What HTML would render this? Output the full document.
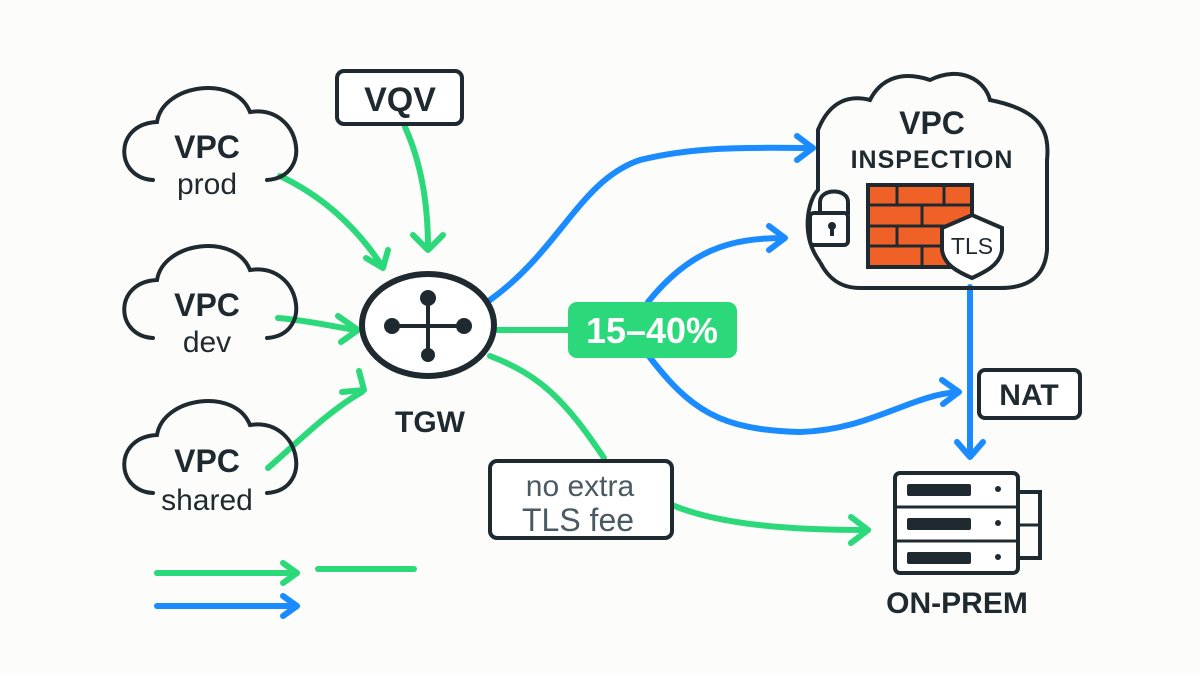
<!DOCTYPE html>
<html><head><style>
html,body{margin:0;padding:0;background:#fcfcfa;}
svg{display:block}
text{font-family:"Liberation Sans","DejaVu Sans",sans-serif;}
</style></head><body>
<svg width="1200" height="675" viewBox="0 0 1200 675" xmlns="http://www.w3.org/2000/svg">
<rect width="1200" height="675" fill="#fcfcfa"/>
<defs>
<g id="cloud"><path d="M-52,28 C-90,26 -92,-28 -48,-30 C-42,-68 30,-78 45,-40 C95,-48 110,25 62,28" fill="none" stroke="#1f2a30" stroke-width="4" stroke-linecap="round"/></g>
</defs>
<g fill="none" stroke-linecap="round" stroke-linejoin="round" stroke-width="6">
<g stroke="#2bd97a">
<path d="M280,176 C320,195 355,225 382,266"/><path d="M366,258 L383,268 L388,250"/>
<path d="M405,127 C420,160 428,200 428,248"/><path d="M413,235 L428,250 L443,235"/>
<path d="M278,318 C305,320 330,326 356,330"/><path d="M338,316 L358,330 L341,342"/>
<path d="M268,468 C300,440 330,410 362,392"/><path d="M342,392 L364,390 L359,371"/>
<path d="M497,330 L568,330"/>
<path d="M490,356 C540,375 565,400 604,458"/>
<path d="M672,505 C720,525 790,530 868,530"/><path d="M851,517 L868,530 L851,543"/>
<path d="M157,573 L297,573"/><path d="M283,563 L297,573 L283,583"/>
<path d="M318,569 L414,569"/>
</g>
<g stroke="#1a8cff">
<path d="M490,300 C560,250 580,180 640,160 C700,145 760,148 812,148"/><path d="M797,136 L813,148 L797,160"/>
<path d="M648,302 C690,250 730,238 784,238"/><path d="M769,226 L785,238 L769,250"/>
<path d="M648,355 C690,410 720,430 800,432 C870,430 910,395 958,392"/><path d="M942,380 L959,392 L943,404"/>
<path d="M970,287 L970,455"/><path d="M957,442 L970,457 L983,442"/>
<path d="M157,606 L297,606"/><path d="M283,596 L297,606 L283,616"/>
</g>
</g>
<use href="#cloud" x="205" y="152"/>
<use href="#cloud" x="205" y="310"/>
<use href="#cloud" x="205" y="465"/>
<g fill="#1f2a30" text-anchor="middle">
<text x="207" y="158" font-size="32" font-weight="bold">VPC</text><text x="207" y="194" font-size="30">prod</text>
<text x="207" y="316" font-size="32" font-weight="bold">VPC</text><text x="207" y="352" font-size="30">dev</text>
<text x="207" y="472" font-size="32" font-weight="bold">VPC</text><text x="207" y="510" font-size="30">shared</text>
</g>
<rect x="337" y="71" width="125" height="53" rx="7" fill="#fff" stroke="#1f2a30" stroke-width="4"/>
<text x="400" y="111" font-size="34" font-weight="bold" text-anchor="middle" fill="#1f2a30">VQV</text>
<ellipse cx="428" cy="325" rx="66" ry="51" fill="#fff" stroke="#1f2a30" stroke-width="6"/>
<g stroke="#1f2a30" stroke-width="4"><line x1="390" y1="326" x2="466" y2="326"/><line x1="428" y1="297" x2="428" y2="357"/></g>
<g fill="#1f2a30"><circle cx="392" cy="326" r="8"/><circle cx="464" cy="326" r="8"/><circle cx="428" cy="298" r="8"/><circle cx="428" cy="355" r="7"/></g>
<text x="430" y="432" font-size="30" font-weight="bold" text-anchor="middle" fill="#1f2a30">TGW</text>
<rect x="568" y="302" width="169" height="56" rx="9" fill="#2bd97a"/>
<text x="652" y="343" font-size="36" font-weight="bold" text-anchor="middle" fill="#fff">15–40%</text>
<rect x="490" y="461" width="182" height="77" rx="7" fill="#fff" stroke="#1f2a30" stroke-width="4"/>
<text x="580" y="496" font-size="30" text-anchor="middle" fill="#4a5a63">no extra</text>
<text x="578" y="531" font-size="32" text-anchor="middle" fill="#4a5a63">TLS fee</text>
<path d="M820,262 C800,235 808,200 818,190 L818,130 C830,100 850,95 870,100 C880,80 900,70 930,80 C960,65 985,80 990,100 C1040,110 1050,130 1047,160 L1047,250 C1045,275 1030,288 1000,288 L860,288 C840,288 828,278 820,262" fill="none" stroke="#1f2a30" stroke-width="4"/>
<text x="932" y="134" font-size="32" font-weight="bold" text-anchor="middle" fill="#1f2a30">VPC</text>
<text x="932" y="168" font-size="25" font-weight="bold" text-anchor="middle" fill="#1f2a30" letter-spacing="1">INSPECTION</text>
<path d="M820,215 L820,202 C820,188 848,188 848,202 L848,215" fill="none" stroke="#1f2a30" stroke-width="4"/>
<rect x="810" y="213" width="38" height="32" rx="4" fill="#fff" stroke="#1f2a30" stroke-width="4"/>
<circle cx="832" cy="226" r="4" fill="#1f2a30"/><rect x="830" y="226" width="4" height="10" fill="#1f2a30"/>
<rect x="868" y="185" width="104" height="82" fill="#f06128" stroke="#1f2a30" stroke-width="4"/>
<g stroke="#1f2a30" stroke-width="3">
<line x1="868" y1="205" x2="972" y2="205"/><line x1="868" y1="226" x2="972" y2="226"/><line x1="868" y1="246" x2="972" y2="246"/>
<line x1="897" y1="185" x2="897" y2="205"/><line x1="944" y1="185" x2="944" y2="205"/>
<line x1="922" y1="205" x2="922" y2="226"/><line x1="897" y1="226" x2="897" y2="246"/><line x1="922" y1="246" x2="922" y2="267"/>
</g>
<path d="M942,228 L972,215 L1002,228 L1002,250 C1000,265 985,272 972,278 C958,272 944,265 942,250 Z" fill="#fff" stroke="#1f2a30" stroke-width="4"/>
<text x="972" y="254" font-size="23" text-anchor="middle" fill="#1f2a30">TLS</text>
<rect x="979" y="370" width="101" height="48" rx="6" fill="#fff" stroke="#1f2a30" stroke-width="4"/>
<text x="1029" y="405" font-size="30" font-weight="bold" text-anchor="middle" fill="#1f2a30">NAT</text>
<path d="M1018,492 L1040,492 L1040,558 L1018,558" fill="none" stroke="#1f2a30" stroke-width="4"/>
<line x1="1018" y1="525" x2="1040" y2="525" stroke="#1f2a30" stroke-width="3"/>
<rect x="895" y="473" width="123" height="100" rx="5" fill="#fff" stroke="#1f2a30" stroke-width="4"/>
<g stroke="#1f2a30" stroke-width="3"><line x1="895" y1="507" x2="1018" y2="507"/><line x1="895" y1="541" x2="1018" y2="541"/></g>
<g fill="#1f2a30">
<rect x="907" y="484" width="64" height="12" rx="2"/><rect x="907" y="518" width="64" height="12" rx="2"/><rect x="907" y="552" width="64" height="12" rx="2"/>
<circle cx="998" cy="489" r="3"/><circle cx="998" cy="523" r="3"/><circle cx="998" cy="557" r="3"/>
</g>
<text x="957" y="613" font-size="30" font-weight="bold" text-anchor="middle" fill="#1f2a30">ON-PREM</text>
</svg>
</body></html>
